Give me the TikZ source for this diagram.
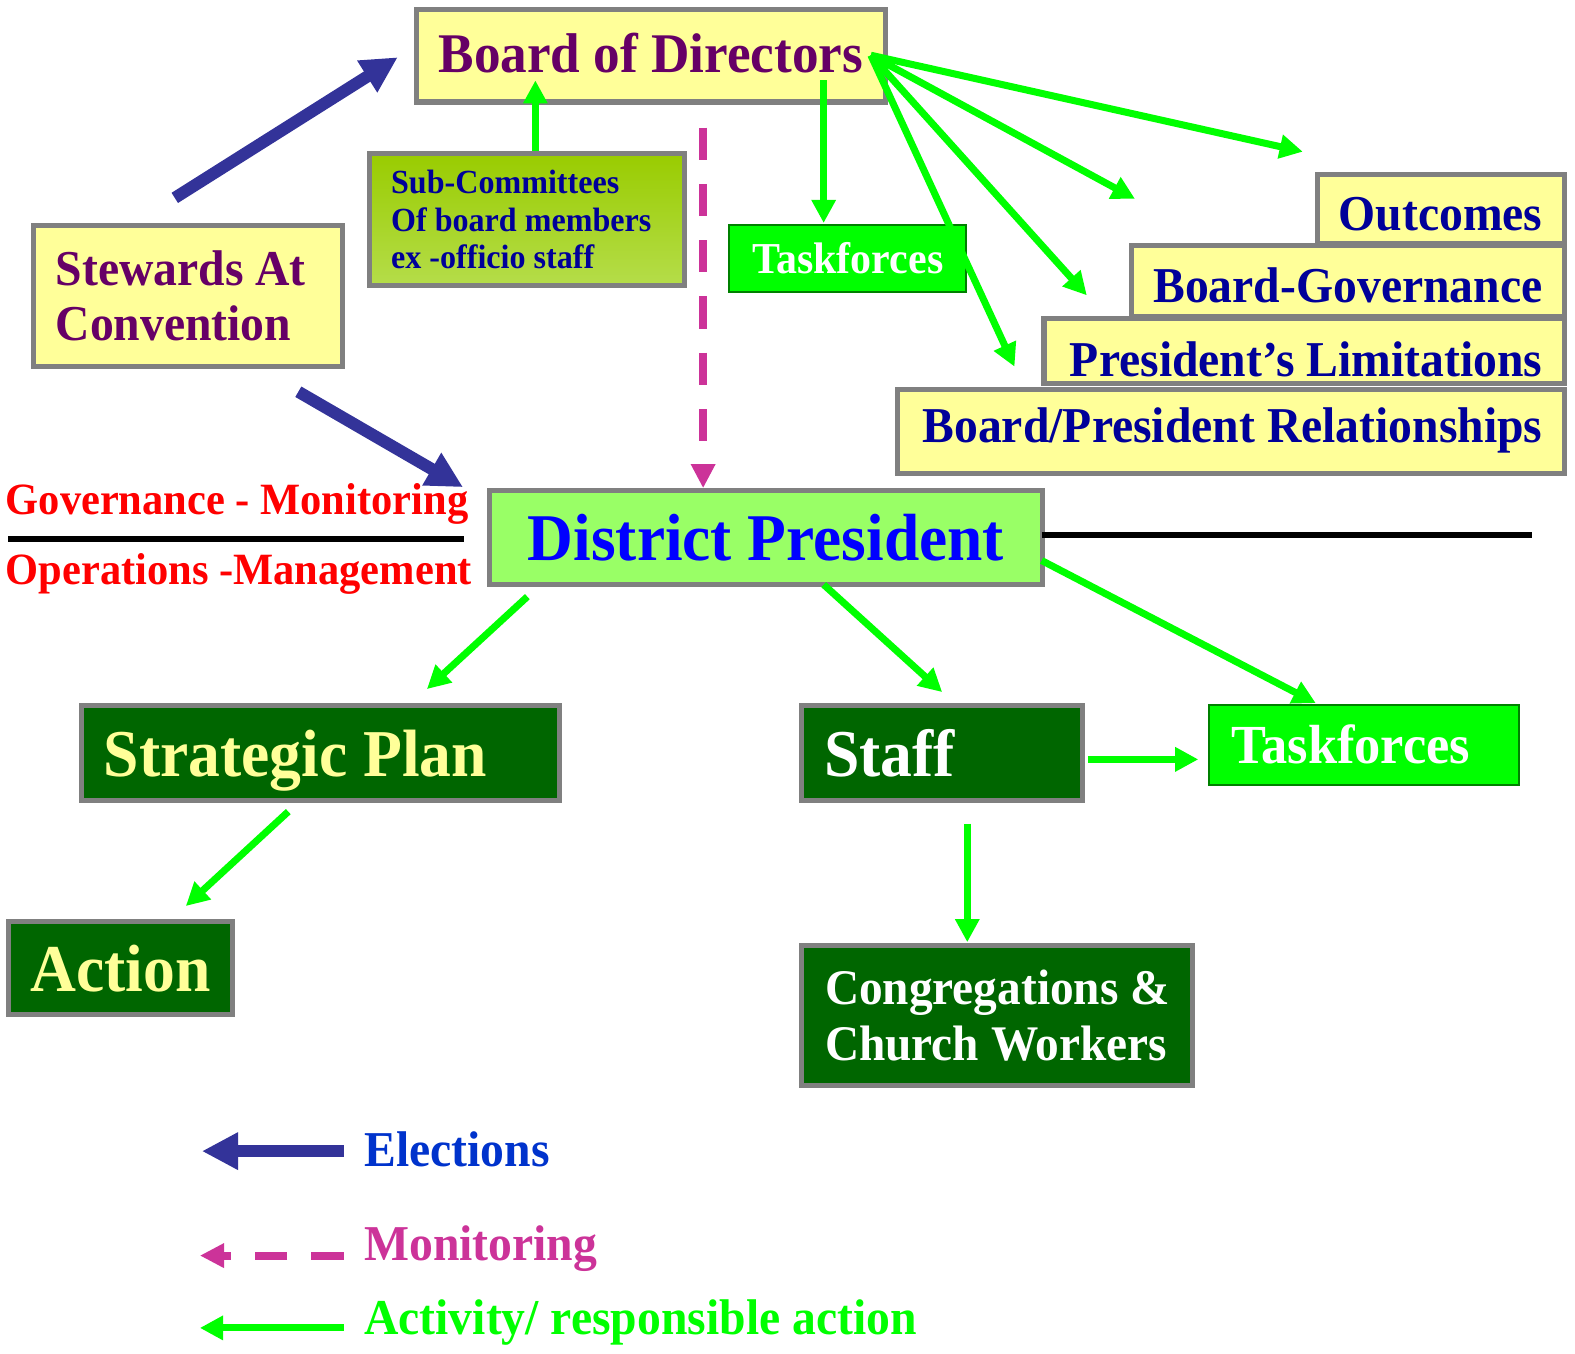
\documentclass[tikz,border=0pt]{standalone}
\usepackage{fontspec}
\setmainfont{Liberation Serif}[FakeStretch=0.95]
\usetikzlibrary{arrows.meta}

\definecolor{boxgray}{HTML}{808080}
\definecolor{paleyellow}{HTML}{FFFF99}
\definecolor{plum}{HTML}{660066}
\definecolor{navy}{HTML}{000099}
\definecolor{lightgreen}{HTML}{99FF66}
\definecolor{brightgreen}{HTML}{00FF00}
\definecolor{darkgreen}{HTML}{006600}
\definecolor{tfborder}{HTML}{008000}
\definecolor{electblue}{HTML}{333399}
\definecolor{electtext}{HTML}{0033CC}
\definecolor{monitpink}{HTML}{CC3399}
\definecolor{subtop}{HTML}{99CC00}
\definecolor{subbot}{HTML}{B5DD4A}

\newcommand{\fsz}[2]{\fontsize{#1}{#2}\selectfont\bfseries}

\begin{document}
\begin{tikzpicture}[x=0.01cm, y=-0.01cm,
    box/.style={rectangle, draw=boxgray, line width=0.05cm, inner xsep=0.22cm, inner ysep=0pt},
    yellowbox/.style={box, fill=paleyellow},
    stackbox/.style={yellowbox, text=navy, font=\fsz{14.2}{15.6}, text height=0.43cm, text depth=0pt},
    darkbox/.style={box, fill=darkgreen, minimum height=0.94cm, text depth=0pt, font=\fsz{18.95}{20}},
    tfbox/.style={rectangle, draw=tfborder, line width=0.02cm, fill=brightgreen, text=white, inner xsep=0.22cm},
    label/.style={inner sep=0pt, anchor=base west},
    act/.style={draw=brightgreen, line width=0.07cm, -{Triangle[length=0.23cm, width=0.23cm]}},
    elect/.style={draw=electblue, line width=0.12cm, -{Triangle[length=0.36cm, width=0.35cm]}},
    monit/.style={draw=monitpink, line width=0.08cm, dash pattern=on 0.32cm off 0.24cm, -{Triangle[length=0.24cm, width=0.23cm]}},
    divider/.style={draw=black, line width=0.06cm}]

    \useasboundingbox (0,0) rectangle (1568,1347);

    % governance side
    \node [yellowbox, minimum width=4.67cm, minimum height=0.92cm, text depth=0.06cm, text=plum, font=\fsz{15.85}{17}] (board) at (648,55.5) {Board of Directors};
    \node [box, top color=subtop, bottom color=subbot, minimum height=1.32cm, text width=2.70cm, align=flush left, text=navy, font=\fsz{9.56}{10.5}] (sub) at (524.5,218.5) {Sub-Committees\\Of board members\\ex -officio staff};
    \node [yellowbox, minimum height=1.40cm, text width=2.63cm, align=flush left, text=plum, font=\fsz{14.2}{15.6}] (stewards) at (187,294.5) {Stewards At\\Convention};
    \node [tfbox, minimum width=2.36cm, minimum height=0.67cm, font=\fsz{12.5}{14}] (tftop) at (844,257.5) {Taskforces};

    % policy stack
    \node [stackbox, minimum height=0.69cm] (outcomes) at (1434.5,208) {\makebox[2.02cm][r]{Outcomes}};
    \node [stackbox, minimum height=0.71cm] (boardgov) at (1342,280) {\makebox[3.87cm][r]{Board-Governance}};
    \node [stackbox, minimum height=0.64cm, text height=0.51cm] (limits) at (1298.5,349.5) {\makebox[4.74cm][r]{President’s Limitations}};
    \node [stackbox, minimum height=0.84cm, text height=0.33cm, text depth=0.1cm] (relations) at (1225.5,429.5) {\makebox[6.20cm][r]{Board/President Relationships}};

    % president and divider
    \node [box, fill=lightgreen, minimum width=5.50cm, minimum height=0.93cm, text=blue, font=\fsz{18.9}{20}] (president) at (762.5,535) {District President};
    \node [label, text=red, font=\fsz{12.66}{14}] (govtext) at (5,512) {Governance - Monitoring};
    \node [label, text=red, font=\fsz{12.66}{14}] (optext) at (5,582) {Operations -Management};
    \coordinate (divl) at (8,537);
    \coordinate (divm) at (462,537);
    \coordinate (dpright) at (1037,533);
    \coordinate (divr) at (1525,533);
    \path [divider] (divl) -- (divm);
    \path [divider] (dpright) -- (divr);

    % operations side
    \node [darkbox, text=paleyellow] (plan) at (319,749.5) {\makebox[4.31cm][l]{Strategic Plan}};
    \node [darkbox, text=white] (staff) at (938,749.5) {\makebox[2.35cm][l]{Staff}};
    \node [tfbox, minimum height=0.79cm, font=\fsz{15.6}{17}] (tfbot) at (1358,741.5) {\makebox[2.64cm][l]{Taskforces}};
    \node [darkbox, minimum width=2.21cm, minimum height=0.92cm, text=paleyellow] (action) at (120,963.5) {Action};
    \node [box, fill=darkgreen, minimum width=3.89cm, minimum height=1.39cm, align=left, text=white, font=\fsz{14.1}{15.65}] (cong) at (993,1011) {Congregations \&\\Church Workers};

    % arrow ends
    \coordinate (stewup) at (174,197);
    \coordinate (boardw) at (396,57);
    \coordinate (stewdown) at (297,390);
    \coordinate (dpnw) at (461,485);
    \coordinate (subout) at (533,150);
    \coordinate (boardin) at (533,80);
    \coordinate (boardmon) at (700,127);
    \coordinate (dpn) at (700,486);
    \coordinate (boarddown) at (820,80);
    \coordinate (tftopin) at (820,222);
    \coordinate (boardfan) at (867,55);
    \coordinate (fana) at (1297,151);
    \coordinate (fanb) at (1130,198);
    \coordinate (fanc) at (1082,294);
    \coordinate (fand) at (1010,365);
    \coordinate (dpsw) at (525,594);
    \coordinate (planin) at (425,686);
    \coordinate (dps) at (820,582);
    \coordinate (staffin) at (938,689);
    \coordinate (dpe) at (1037,558);
    \coordinate (tfbotin) at (1310,700);
    \coordinate (planout) at (287,808);
    \coordinate (actionin) at (185,902);
    \coordinate (staffe) at (1083,756);
    \coordinate (tfbotw) at (1193,756);
    \coordinate (staffs) at (963,820);
    \coordinate (congin) at (963,938);

    \path [elect] (stewup) -- (boardw);
    \path [elect] (stewdown) -- (dpnw);
    \path [monit] (boardmon) -- (dpn);
    \path [act] (subout) -- (boardin);
    \path [act] (boarddown) -- (tftopin);
    \path [act] (boardfan) -- (fana);
    \path [act] (boardfan) -- (fanb);
    \path [act] (boardfan) -- (fanc);
    \path [act] (boardfan) -- (fand);
    \path [act] (dpsw) -- (planin);
    \path [act] (dps) -- (staffin);
    \path [act] (dpe) -- (tfbotin);
    \path [act] (planout) -- (actionin);
    \path [act] (staffe) -- (tfbotw);
    \path [act] (staffs) -- (congin);

    % legend
    \coordinate (electfrom) at (342,1146);
    \coordinate (electto) at (201,1146);
    \coordinate (monitfrom) at (342,1250);
    \coordinate (monitto) at (199,1250);
    \coordinate (actfrom) at (342,1322);
    \coordinate (actto) at (199,1322);
    \path [elect] (electfrom) -- (electto);
    \path [monit] (monitfrom) -- (monitto);
    \path [act] (actfrom) -- (actto);
    \node [label, text=electtext, font=\fsz{14.2}{15.6}] (electkey) at (362,1161) {Elections};
    \node [label, text=monitpink, font=\fsz{14.2}{15.6}] (monitkey) at (362,1255) {Monitoring};
    \node [label, text=brightgreen, font=\fsz{14.2}{15.6}] (actkey) at (362,1329) {Activity/ responsible action};

\end{tikzpicture}
\end{document}
